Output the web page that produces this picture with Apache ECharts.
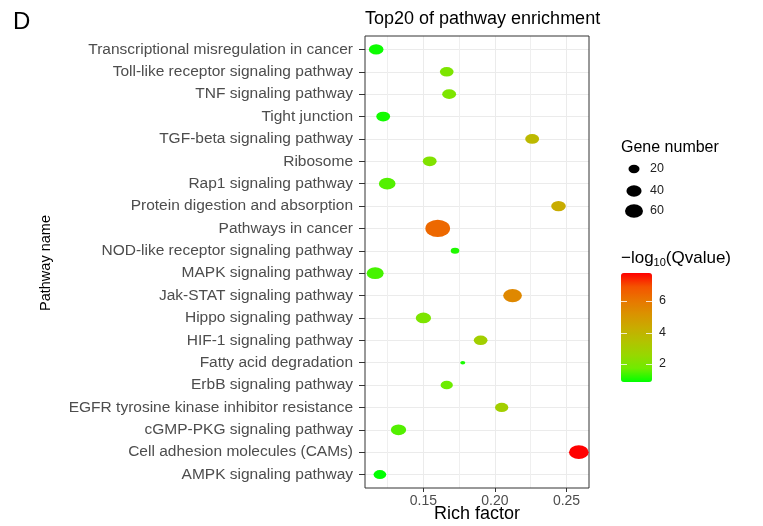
<!DOCTYPE html>
<html><head><meta charset="utf-8">
<script src="https://cdn.jsdelivr.net/npm/echarts@6/dist/echarts.min.js"></script>
<style>html,body{margin:0;padding:0;background:#fff}#c{width:763px;height:526px}</style>
</head><body><div id="c"></div>
<script>
// pathways listed bottom -> top
const pathways = [
  'AMPK signaling pathway',
  'Cell adhesion molecules (CAMs)',
  'cGMP-PKG signaling pathway',
  'EGFR tyrosine kinase inhibitor resistance',
  'ErbB signaling pathway',
  'Fatty acid degradation',
  'HIF-1 signaling pathway',
  'Hippo signaling pathway',
  'Jak-STAT signaling pathway',
  'MAPK signaling pathway',
  'NOD-like receptor signaling pathway',
  'Pathways in cancer',
  'Protein digestion and absorption',
  'Rap1 signaling pathway',
  'Ribosome',
  'TGF-beta signaling pathway',
  'Tight junction',
  'TNF signaling pathway',
  'Toll-like receptor signaling pathway',
  'Transcriptional misregulation in cancer'
];
const richFactor = [0.1196, 0.2586, 0.1326, 0.2047, 0.1663, 0.1775, 0.1900, 0.1500, 0.2123, 0.1163,
                    0.1721, 0.1600, 0.2444, 0.1247, 0.1544, 0.2260, 0.1219, 0.1680, 0.1663, 0.1170];
const geneNumber = [27, 74, 41, 30, 25, 9, 32, 41, 66, 52,
                    13, 126, 37, 50, 33, 33, 33, 33, 32, 37];
const negLog10Q = [0.86, 7.78, 1.5, 2.9, 1.7, 1.05, 2.9, 2.0, 5.5, 1.4,
                   1.1, 6.4, 4.3, 1.5, 2.1, 3.8, 1.0, 2.0, 2.0, 0.95];
const xTicks = [0.15, 0.20, 0.25];
const xMinorTicks = [0.125, 0.175, 0.225];
const sizeLegendValues = [20, 40, 60];
const colorbarTicks = [2, 4, 6];

const FONT = '"Liberation Sans", Arial, Helvetica, sans-serif';
const gMin = Math.min(...geneNumber), gMax = Math.max(...geneNumber);
const qMin = Math.min(...negLog10Q), qMax = Math.max(...negLog10Q);
const rMin = Math.min(...richFactor), rMax = Math.max(...richFactor);
const xPad = (rMax - rMin) * 0.05;
const D_MIN = 5, D_MAX = 24.7, ASPECT = 0.7;
function diam(g) { return D_MIN + (D_MAX - D_MIN) * Math.sqrt(Math.max(0, (g - gMin) / (gMax - gMin))); }

const yIdx = pathways.map((p, i) => i + 1);
const data = pathways.map((p, i) => [richFactor[i], i + 1, geneNumber[i], negLog10Q[i]]);

const cbLeft = 621, cbTop = 273, cbW = 31, cbH = 109;
function cbY(v) { return cbTop + cbH * (1 - (v - qMin) / (qMax - qMin)); }

const graphics = [
  { type: 'text', style: { text: 'D', x: 13, y: 22, fontSize: 24, fontFamily: FONT, fill: '#000', verticalAlign: 'middle' } },
  { type: 'text', style: { text: 'Top20 of pathway enrichment', x: 365, y: 19, fontSize: 18, fontFamily: FONT, fill: '#000', verticalAlign: 'middle' } },
  { type: 'text', style: { text: 'Rich factor', x: 477, y: 514, fontSize: 18, fontFamily: FONT, fill: '#000', align: 'center', verticalAlign: 'middle' } },
  { type: 'text', x: 46, y: 263, rotation: Math.PI / 2, style: { text: 'Pathway name', x: 0, y: 0, fontSize: 14.5, fontFamily: FONT, fill: '#000', align: 'center', verticalAlign: 'middle' } },
  { type: 'text', style: { text: 'Gene number', x: 621, y: 148, fontSize: 16, fontFamily: FONT, fill: '#000', verticalAlign: 'middle' } },
  { type: 'text', style: { text: '{a|\u2212log}{b|10}{a|(Qvalue)}', x: 621, y: 258, verticalAlign: 'middle', fontFamily: FONT,
      rich: { a: { fontSize: 17, fontFamily: FONT, fill: '#000', lineHeight: 20 },
              b: { fontSize: 11, fontFamily: FONT, fill: '#000', lineHeight: 12, verticalAlign: 'bottom' } } } }
];
const legendY = [169, 191, 211];
sizeLegendValues.forEach((g, k) => {
  const d = diam(g);
  graphics.push({ type: 'circle', x: 634, y: legendY[k], scaleY: 0.75, shape: { cx: 0, cy: 0, r: d / 2 }, style: { fill: '#000' } });
  graphics.push({ type: 'text', style: { text: String(g), x: 650, y: legendY[k], fontSize: 12.5, fontFamily: FONT, fill: '#222', verticalAlign: 'middle' } });
});
colorbarTicks.forEach(v => {
  const y = Math.round(cbY(v)) + 0.5;
  graphics.push({ type: 'line', shape: { x1: cbLeft, y1: y, x2: cbLeft + 6, y2: y }, style: { stroke: 'rgba(255,255,255,0.8)', lineWidth: 1 }, z: 100 });
  graphics.push({ type: 'line', shape: { x1: cbLeft + cbW - 6, y1: y, x2: cbLeft + cbW, y2: y }, style: { stroke: 'rgba(255,255,255,0.8)', lineWidth: 1 }, z: 100 });
  graphics.push({ type: 'text', style: { text: String(v), x: 659, y: cbY(v), fontSize: 12.5, fontFamily: FONT, fill: '#222', verticalAlign: 'middle' } });
});

const chart = echarts.init(document.getElementById('c'), null, { renderer: 'canvas' });
chart.setOption({
  animation: false,
  backgroundColor: '#fff',
  textStyle: { fontFamily: FONT },
  grid: { left: 365, top: 36, width: 224, height: 452, show: true, borderColor: '#333', borderWidth: 1, backgroundColor: 'transparent', z: 3 },
  xAxis: [
    { type: 'value', min: rMin - xPad, max: rMax + xPad, position: 'bottom',
      axisLine: { show: false },
      axisTick: { show: true, customValues: xTicks, length: 4, lineStyle: { color: '#333' } },
      axisLabel: { customValues: xTicks, formatter: v => v.toFixed(2), fontSize: 14, color: '#4D4D4D', margin: 6, fontFamily: FONT },
      splitLine: { show: true, lineStyle: { color: '#EBEBEB', width: 1 } } },
    { type: 'value', min: rMin - xPad, max: rMax + xPad, position: 'top',
      axisLine: { show: false },
      axisTick: { show: false, customValues: xMinorTicks },
      axisLabel: { show: false, customValues: xMinorTicks },
      splitLine: { show: true, lineStyle: { color: '#EFEFEF', width: 1 } } }
  ],
  yAxis: { type: 'value', min: 0.4, max: pathways.length + 0.6,
    axisLine: { show: false },
    axisTick: { show: true, customValues: yIdx, length: 6, lineStyle: { color: '#333' } },
    axisLabel: { customValues: yIdx, formatter: v => pathways[Math.round(v) - 1] || '', fontSize: 15.5, color: '#4D4D4D', margin: 12, fontFamily: FONT },
    splitLine: { show: true, lineStyle: { color: '#EBEBEB', width: 1 } } },
  visualMap: {
    type: 'continuous', dimension: 3, min: qMin, max: qMax, calculable: false,
    left: cbLeft, top: cbTop, itemWidth: cbW, itemHeight: cbH, padding: 0, text: null, showLabel: false,
    inRange: { color: ['#00FF00', '#70EB00', '#98D700', '#B3C200', '#C9AB00', '#DA9200', '#E87600', '#F45300', '#FF0000'] },
    seriesIndex: 0, hoverLink: false
  },
  series: [{
    type: 'scatter', xAxisIndex: 0, yAxisIndex: 0, data: data, symbol: 'circle',
    symbolSize: v => { const d = diam(v[2]); return [d, d * ASPECT]; },
    itemStyle: { opacity: 1 }, emphasis: { disabled: true }, z: 5
  }],
  graphic: graphics
});
</script></body></html>
